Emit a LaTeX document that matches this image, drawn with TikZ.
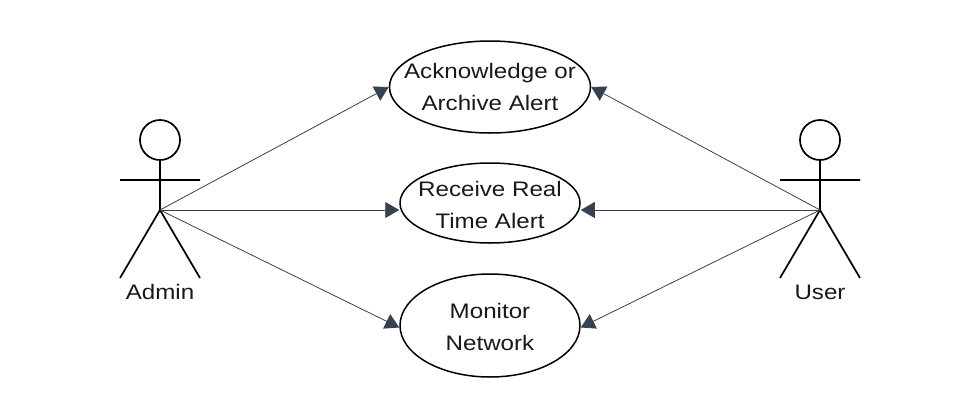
\documentclass[tikz,border=0pt]{standalone}
\usepackage{fontspec}
\setmainfont{Liberation Sans}[FakeStretch=1.15]
\usetikzlibrary{shapes.geometric,arrows.meta}
\definecolor{conncol}{HTML}{374151}
\begin{document}
\begin{tikzpicture}[x=1pt,y=-1pt,
 uc/.style={draw=black,line width=1.5pt,ellipse,inner sep=0pt},
 txt/.style={inner sep=0pt,align=center,font=\fontsize{21}{32}\selectfont,text=black!90},
 lbl/.style={font=\fontsize{21}{22}\selectfont,inner sep=0pt,text=black!90,anchor=base},
 stick/.style={line width=1.7pt,draw=black},
 conn/.style={draw=conncol,line width=0.8pt,-{Triangle[length=14pt,width=16pt,color=conncol]}}]
\useasboundingbox (0,0) rectangle (980,418);
\node[uc,minimum width=201pt,minimum height=92pt] (a) at (490,87) {};
\node[uc,minimum width=180pt,minimum height=80pt] (r) at (490,203) {};
\node[uc,minimum width=180pt,minimum height=103pt] (m) at (490,325.5) {};
\node[txt] (at) at (490,87) {Acknowledge or\\Archive Alert};
\node[txt] (rt) at (490,204.5) {Receive Real\\Time Alert};
\node[txt] (mt) at (490,327) {Monitor\\Network};
\coordinate (ah) at (160,210);
\coordinate (uh) at (820,210);
\draw[stick] (160,140) circle (20);
\draw[stick] (160,160) -- (ah) (120,180) -- (200,180) (120,278) -- (ah) -- (200,278);
\draw[stick] (820,140) circle (20);
\draw[stick] (820,160) -- (uh) (780,180) -- (860,180) (780,278) -- (uh) -- (860,278);
\node[lbl] (al) at (160,299) {Admin};
\node[lbl] (ul) at (820,299) {User};
\draw[conn] (ah) -- (a.west);
\draw[conn] (ah) -- (r.west |- ah);
\draw[conn] (ah) -- ([yshift=-2pt]m.west);
\draw[conn] (uh) -- (a.east);
\draw[conn] (uh) -- (r.east |- uh);
\draw[conn] (uh) -- ([yshift=-2pt]m.east);
\end{tikzpicture}
\end{document}
